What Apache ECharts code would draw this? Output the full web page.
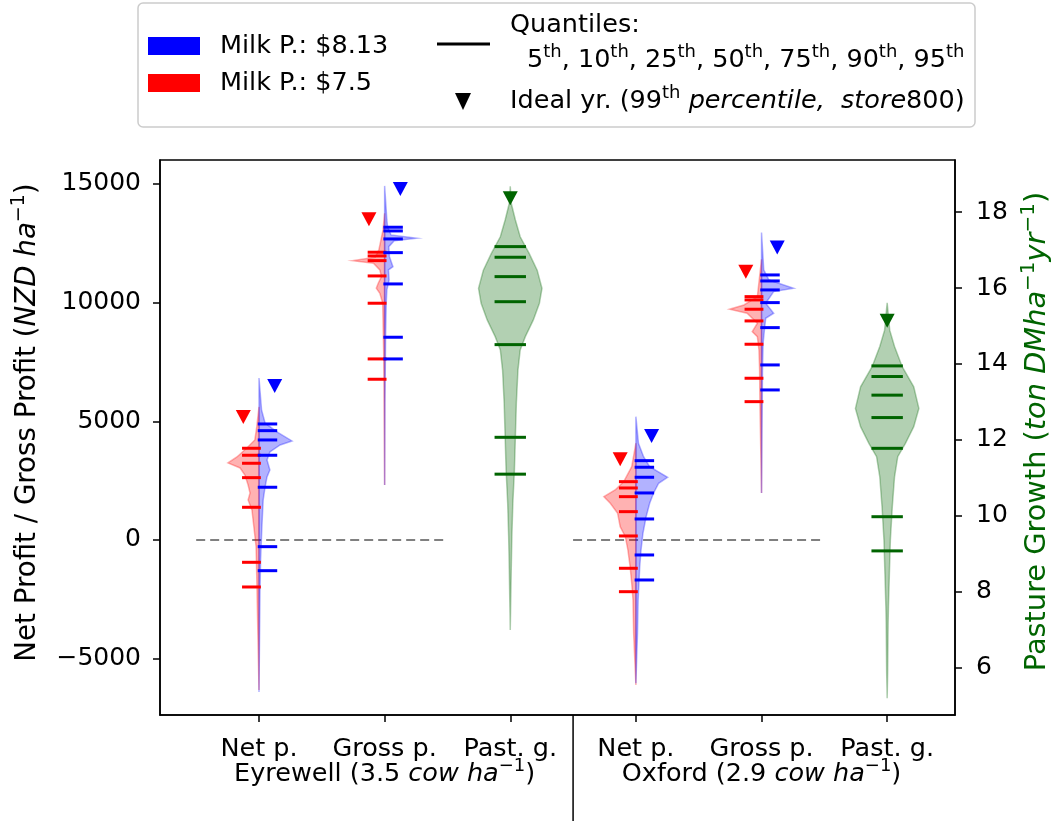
<!DOCTYPE html>
<html>
<head>
<meta charset="utf-8">
<script src="https://cdn.jsdelivr.net/npm/echarts@6/dist/echarts.min.js"></script>
<style>
  html, body { margin: 0; padding: 0; background: #ffffff; }
  #chart { width: 1052px; height: 821px; }
</style>
</head>
<body>
<div id="chart"></div>
<script>
// ---- categories and ticks ----
const categories = ['Net p.', 'Gross p.', 'Past. g.', 'Net p.', 'Gross p.', 'Past. g.'];
const farmNames = ['Eyrewell', 'Oxford'];
const stockingRates = ['3.5', '2.9'];
const profitTicks = [-5000, 0, 5000, 10000, 15000];
const pastureTicks = [6, 8, 10, 12, 14, 16, 18];

// ---- density profiles: [value, relative density] ----
// Eyrewell
const eyNetHigh = [[6827,0],[5478,0.08],[4930,0.19],[4551,0.56],[4172,1.03],[4003,0.66],[3708,0.34],[3371,0.25],[2950,0.34],[2655,0.25],[2233,0.19],[1686,0.13],[548,0.09],[-843,0.05],[-2233,0.03],[-6405,0]];
const eyNetLow = [[5605,0],[4762,0.07],[4214,0.13],[3877,0.38],[3498,0.69],[3245,0.97],[3034,0.59],[2739,0.44],[2318,0.34],[1981,0.28],[1686,0.34],[1264,0.22],[548,0.16],[-295,0.09],[-1559,0.07],[-2950,0.05],[-6321,0]];
const eyGrossHigh = [[14918,0],[13485,0.07],[13203,0.09],[12853,0.2],[12713,1.0],[12612,0.3],[12360,0.13],[11938,0.15],[11517,0.26],[11378,0.12],[10956,0.14],[10535,0.07],[9987,0.05],[8567,0.03],[7164,0.02],[5773,0.01],[2318,0]];
const eyGrossLow = [[13767,0],[13064,0.05],[12221,0.18],[11913,0.3],[11770,1.0],[11660,0.35],[11378,0.15],[11096,0.1],[10817,0.2],[10606,0.26],[10396,0.15],[9975,0.06],[9271,0.05],[7880,0.03],[6447,0.02],[2318,0]];
const eyPasture = [[18.68,0],[18.23,0.03],[17.79,0.16],[17.35,0.31],[16.91,0.59],[16.47,0.84],[15.99,0.99],[15.60,0.91],[15.16,0.72],[14.72,0.47],[14.37,0.31],[13.84,0.24],[12.97,0.19],[12.09,0.16],[11.21,0.13],[10.33,0.08],[9.46,0.05],[8.58,0.03],[7.0,0]];
// Oxford
const oxNetHigh = [[5197,0],[4075,0.08],[3510,0.24],[3089,0.43],[2642,0.99],[2389,0.71],[1968,0.55],[1547,0.43],[982,0.32],[282,0.22],[-421,0.16],[-1125,0.12],[-2528,0.07],[-3932,0.05],[-6039,0]];
const oxNetLow = [[4075,0],[3089,0.13],[2457,0.38],[2107,0.65],[1825,1.0],[1547,0.8],[1125,0.57],[560,0.49],[139,0.33],[-421,0.25],[-1125,0.18],[-1825,0.13],[-2528,0.09],[-3932,0.07],[-6110,0]];
const oxGrossHigh = [[12950,0],[11378,0.07],[10956,0.23],[10606,1.0],[10464,0.38],[9975,0.13],[9553,0.38],[9342,0.13],[8850,0.09],[8289,0.05],[7164,0.03],[1981,0]];
const oxGrossLow = [[11829,0],[10253,0.13],[9903,0.55],[9722,1.0],[9553,0.45],[9131,0.13],[8778,0.29],[8567,0.13],[8006,0.08],[7164,0.06],[5760,0.05],[1981,0]];
const oxPasture = [[15.61,0],[14.89,0.08],[14.46,0.23],[13.93,0.47],[13.40,0.83],[12.83,0.99],[12.35,0.83],[11.91,0.57],[11.56,0.33],[11.03,0.23],[10.24,0.16],[9.37,0.1],[8.49,0.07],[7.61,0.04],[7.18,0.03],[5.87,0.015],[5.2,0]];

// ---- quantiles: 5th, 10th, 25th, 50th, 75th, 90th, 95th ----
const qEyNetHigh = [-1294, -282, 2221, 3569, 4214, 4606, 4888];
const qEyNetLow = [-1981, -941, 1377, 2626, 3232, 3569, 3864];
const qEyGrossHigh = [7628, 8542, 10788, 12107, 12684, 13021, 13177];
const qEyGrossLow = [6772, 7628, 9975, 11125, 11770, 11968, 12124];
const qEyPasture = [11.10, 12.07, 14.51, 15.64, 16.30, 16.81, 17.09];
const qOxNetHigh = [-1686, -632, 885, 1981, 2642, 3064, 3342];
const qOxNetLow = [-2179, -1193, 169, 1193, 1825, 2191, 2457];
const qOxGrossHigh = [6321, 7375, 8947, 10001, 10535, 10914, 11167];
const qOxGrossLow = [5828, 6814, 8247, 9229, 9722, 10114, 10253];
const qOxPasture = [9.08, 9.98, 11.78, 12.59, 13.18, 13.67, 13.95];

// ---- ideal year (99th percentile, store800) ----
const idealHigh = [6490, 14791, 4383, 12318];   // Net / Gross, Eyrewell then Oxford
const idealLow = [5183, 13514, 3400, 11306];
const idealPasture = [18.36, 15.14];

// ---- layout / style constants ----
const FONT = 'DejaVu Sans';
const FS = 25.5;          // horizontal text
const FS_NAME = 27.7;     // left rotated axis title
const FS_NAME_R = 28.8;   // right rotated axis title
const BLUE = '#0000ff', RED = '#ff0000', GREEN = '#006400';
const HALF_W = 0.255;     // half width of a violin at density 1 (x units)
const X_MIN = 0.212, X_MAX = 6.54;
const profitPos = [1, 2, 4, 5];
const pasturePos = [3, 6];
const farmPos = [2, 5];

const profitViolins = [
  { pos: 1, dir: -1, color: RED, profile: eyNetLow },
  { pos: 1, dir: 1, color: BLUE, profile: eyNetHigh },
  { pos: 2, dir: -1, color: RED, profile: eyGrossLow },
  { pos: 2, dir: 1, color: BLUE, profile: eyGrossHigh },
  { pos: 4, dir: -1, color: RED, profile: oxNetLow },
  { pos: 4, dir: 1, color: BLUE, profile: oxNetHigh },
  { pos: 5, dir: -1, color: RED, profile: oxGrossLow },
  { pos: 5, dir: 1, color: BLUE, profile: oxGrossHigh }
];
const pastureViolins = [
  { pos: 3, profile: eyPasture },
  { pos: 6, profile: oxPasture }
];
const profitQuantiles = [
  { pos: 1, x0: -0.135, x1: 0.015, color: RED, q: qEyNetLow },
  { pos: 1, x0: -0.01, x1: 0.145, color: BLUE, q: qEyNetHigh },
  { pos: 2, x0: -0.135, x1: 0.015, color: RED, q: qEyGrossLow },
  { pos: 2, x0: -0.01, x1: 0.145, color: BLUE, q: qEyGrossHigh },
  { pos: 4, x0: -0.135, x1: 0.015, color: RED, q: qOxNetLow },
  { pos: 4, x0: -0.01, x1: 0.145, color: BLUE, q: qOxNetHigh },
  { pos: 5, x0: -0.135, x1: 0.015, color: RED, q: qOxGrossLow },
  { pos: 5, x0: -0.01, x1: 0.145, color: BLUE, q: qOxGrossHigh }
];
const pastureQuantiles = [
  { pos: 3, q: qEyPasture },
  { pos: 6, q: qOxPasture }
];

function alpha(hex, a) {
  const n = parseInt(hex.slice(1), 16);
  return 'rgba(' + (n >> 16) + ',' + ((n >> 8) & 255) + ',' + (n & 255) + ',' + a + ')';
}

function violinPoints(api, pos, prof, dirs) {
  const pts = [];
  dirs.forEach(function (dir, k) {
    const seq = k === 0 ? prof : prof.slice().reverse();
    seq.forEach(function (p) { pts.push(api.coord([pos + dir * p[1] * HALF_W, p[0]])); });
  });
  return pts;
}

function violinSeries(list, yAxisIndex, full) {
  return {
    type: 'custom', yAxisIndex: yAxisIndex, z: 2,
    data: list.map(function (v) { return [v.pos, v.profile[0][0]]; }),
    renderItem: function (params, api) {
      const v = list[params.dataIndex];
      const color = full ? GREEN : v.color;
      let pts;
      if (full) {
        pts = violinPoints(api, v.pos, v.profile, [1, -1]);
      } else {
        pts = violinPoints(api, v.pos, v.profile, [v.dir]);
        pts.push(api.coord([v.pos, v.profile[v.profile.length - 1][0]]));
        pts.unshift(api.coord([v.pos, v.profile[0][0]]));
      }
      return {
        type: 'polygon', shape: { points: pts },
        style: { fill: alpha(color, 0.3), stroke: alpha(color, 0.3), lineWidth: 1.5 }
      };
    }
  };
}

function quantileSeries(list, yAxisIndex, full) {
  const items = [];
  list.forEach(function (g, gi) {
    g.q.forEach(function (val) { items.push([g.pos, val, gi]); });
  });
  return {
    type: 'custom', yAxisIndex: yAxisIndex, z: 3,
    data: items,
    renderItem: function (params, api) {
      const g = list[api.value(2)];
      const pos = api.value(0), val = api.value(1);
      const x0 = full ? -0.125 : g.x0, x1 = full ? 0.125 : g.x1;
      const a = api.coord([pos + x0, val]), b = api.coord([pos + x1, val]);
      return {
        type: 'line', shape: { x1: a[0], y1: a[1], x2: b[0], y2: b[1] },
        style: { stroke: full ? GREEN : g.color, lineWidth: 3 }
      };
    }
  };
}

function makeRich(fs) {
  const lh = Math.round(fs * 1.06);
  const sup = Math.round(fs * 0.7);
  return {
    n: { fontSize: fs, fontFamily: FONT, color: '#000', lineHeight: lh },
    i: { fontSize: fs, fontFamily: FONT, fontStyle: 'italic', color: '#000', lineHeight: lh },
    s: { fontSize: sup, fontFamily: FONT, color: '#000', padding: [0, 0, Math.round(fs * 0.62), 0], lineHeight: lh },
    g: { fontSize: fs, fontFamily: FONT, color: GREEN, lineHeight: lh },
    gi: { fontSize: fs, fontFamily: FONT, fontStyle: 'italic', color: GREEN, lineHeight: lh },
    gs: { fontSize: sup, fontFamily: FONT, color: GREEN, padding: [0, 0, Math.round(fs * 0.62), 0], lineHeight: lh }
  };
}
const rich = makeRich(FS);
const richName = makeRich(FS_NAME);
const richNameR = makeRich(FS_NAME_R);

const tickPositions = [1, 2, 3, 4, 5, 6];
function categoryLabel(value) {
  const idx = tickPositions.indexOf(Math.round(value));
  return idx < 0 ? '' : categories[idx];
}
function farmLabel(value) {
  const f = farmPos.indexOf(Math.round(value));
  if (f < 0) return '';
  return '{n|' + farmNames[f] + ' (' + stockingRates[f] + ' }{i|cow ha}{s|−1}{n|)}';
}

const chart = echarts.init(document.getElementById('chart'), null, { renderer: 'canvas' });

const font = FS + 'px "' + FONT + '"';
const legendGraphics = [
  { type: 'rect', shape: { x: 138, y: 3, width: 837, height: 124, r: 5 },
    style: { fill: '#ffffff', stroke: '#cccccc', lineWidth: 1.5 }, z: 10 },
  { type: 'rect', shape: { x: 148, y: 37, width: 52, height: 18 }, style: { fill: BLUE }, z: 11 },
  { type: 'rect', shape: { x: 148, y: 74, width: 52, height: 18 }, style: { fill: RED }, z: 11 },
  { type: 'text', x: 220, y: 46, z: 11,
    style: { text: 'Milk P.: $8.13', font: font, fill: '#000', verticalAlign: 'middle' } },
  { type: 'text', x: 220, y: 83, z: 11,
    style: { text: 'Milk P.: $7.5', font: font, fill: '#000', verticalAlign: 'middle' } },
  { type: 'line', shape: { x1: 437, y1: 44, x2: 490, y2: 44 }, style: { stroke: '#000', lineWidth: 3 }, z: 11 },
  { type: 'text', x: 510, y: 25, z: 11,
    style: { text: 'Quantiles:', font: font, fill: '#000', verticalAlign: 'middle' } },
  { type: 'text', x: 527, y: 60, z: 11,
    style: { text: '{n|5}{s|th}{n|, 10}{s|th}{n|, 25}{s|th}{n|, 50}{s|th}{n|, 75}{s|th}{n|, 90}{s|th}{n|, 95}{s|th}',
             rich: rich, verticalAlign: 'middle' } },
  { type: 'polygon', shape: { points: [[455, 93], [471, 93], [463, 110]] }, style: { fill: '#000' }, z: 11 },
  { type: 'text', x: 510, y: 101, z: 11,
    style: { text: '{n|Ideal yr. (99}{s|th}{n| }{i|percentile,  store}{n|800)}', rich: rich, verticalAlign: 'middle' } }
];

const axisLineStyle = { color: '#000', width: 1.5 };

const option = {
  animation: false,
  backgroundColor: '#ffffff',
  grid: { left: 160, right: 97, top: 160, bottom: 106, show: true, borderColor: '#000', borderWidth: 1.5,
          containLabel: false, outerBoundsMode: 'none' },
  xAxis: [
    {
      type: 'value', min: X_MIN, max: X_MAX, position: 'bottom',
      splitLine: { show: false },
      axisLine: { show: true, onZero: false, lineStyle: axisLineStyle },
      axisTick: { show: true, length: 7, customValues: tickPositions, lineStyle: axisLineStyle },
      axisLabel: { customValues: tickPositions, formatter: categoryLabel, color: '#000',
                   fontSize: FS, fontFamily: FONT, margin: 21, showMinLabel: true, showMaxLabel: true }
    },
    {
      // second row of labels: farm name and stocking rate
      type: 'value', min: X_MIN, max: X_MAX, position: 'bottom',
      splitLine: { show: false },
      axisLine: { show: false, onZero: false },
      axisTick: { show: false },
      axisLabel: { customValues: farmPos, formatter: farmLabel, rich: rich, margin: 46,
                   showMinLabel: true, showMaxLabel: true }
    }
  ],
  yAxis: [
    {
      type: 'value', min: -7375, max: 16010, position: 'left',
      splitLine: { show: false },
      axisLine: { show: true, onZero: false, lineStyle: axisLineStyle },
      axisTick: { show: true, length: 7, customValues: profitTicks, lineStyle: axisLineStyle },
      axisLabel: { customValues: profitTicks, color: '#000', fontSize: 25, fontFamily: FONT, margin: 19,
                   formatter: function (v) { return v < 0 ? '−' + Math.abs(v) : String(v); } },
      name: '{n|Net Profit / Gross Profit (}{i|NZD ha}{s|−1}{n|)}',
      nameLocation: 'middle', nameRotate: 90, nameGap: 112,
      nameTextStyle: { rich: richName, padding: [0, 0, 0, 30] }
    },
    {
      type: 'value', min: 4.76, max: 19.37, position: 'right',
      splitLine: { show: false },
      axisLine: { show: true, onZero: false, lineStyle: axisLineStyle },
      axisTick: { show: true, length: 7, customValues: pastureTicks, lineStyle: axisLineStyle },
      axisLabel: { customValues: pastureTicks, color: '#000', fontSize: 25, fontFamily: FONT, margin: 21 },
      name: '{g|Pasture Growth (}{gi|ton DMha}{gs|−1}{gi|yr}{gs|−1}{g|)}',
      nameLocation: 'middle', nameRotate: 90, nameGap: 61,
      nameTextStyle: { rich: richNameR, padding: [0, 0, 0, 12] }
    }
  ],
  graphic: legendGraphics,
  series: [
    // dashed zero reference per farm
    {
      type: 'custom', z: 1, data: [[0.5, 2.5], [3.5, 5.5]],
      renderItem: function (params, api) {
        const a = api.coord([api.value(0), 0]), b = api.coord([api.value(1), 0]);
        return { type: 'line', shape: { x1: a[0], y1: a[1], x2: b[0], y2: b[1] },
                 style: { stroke: '#808080', lineWidth: 2, lineDash: [9, 5] } };
      }
    },
    violinSeries(profitViolins, 0, false),
    violinSeries(pastureViolins, 1, true),
    quantileSeries(profitQuantiles, 0, false),
    quantileSeries(pastureQuantiles, 1, true),
    {
      type: 'scatter', name: 'Milk P.: $7.5', yAxisIndex: 0, z: 4,
      symbol: 'triangle', symbolRotate: 180, symbolSize: [15, 14],
      itemStyle: { color: RED, opacity: 1 },
      data: idealLow.map(function (v, i) { return [profitPos[i] - 0.125, v]; })
    },
    {
      type: 'scatter', name: 'Milk P.: $8.13', yAxisIndex: 0, z: 4,
      symbol: 'triangle', symbolRotate: 180, symbolSize: [15, 14],
      itemStyle: { color: BLUE, opacity: 1 },
      data: idealHigh.map(function (v, i) { return [profitPos[i] + 0.125, v]; })
    },
    {
      type: 'scatter', name: 'Pasture', yAxisIndex: 1, z: 4,
      symbol: 'triangle', symbolRotate: 180, symbolSize: [15, 14],
      itemStyle: { color: GREEN, opacity: 1 },
      data: idealPasture.map(function (v, i) { return [pasturePos[i], v]; })
    },
    // farm separator below the axis
    {
      type: 'custom', z: 5, clip: false, data: [[3.5]],
      renderItem: function (params, api) {
        const x = api.coord([api.value(0), 0])[0];
        const bottom = params.coordSys.y + params.coordSys.height;
        return { type: 'line', shape: { x1: x, y1: bottom, x2: x, y2: api.getHeight() },
                 style: { stroke: '#000', lineWidth: 1.5 } };
      }
    }
  ]
};

chart.setOption(option);
</script>
</body>
</html>
